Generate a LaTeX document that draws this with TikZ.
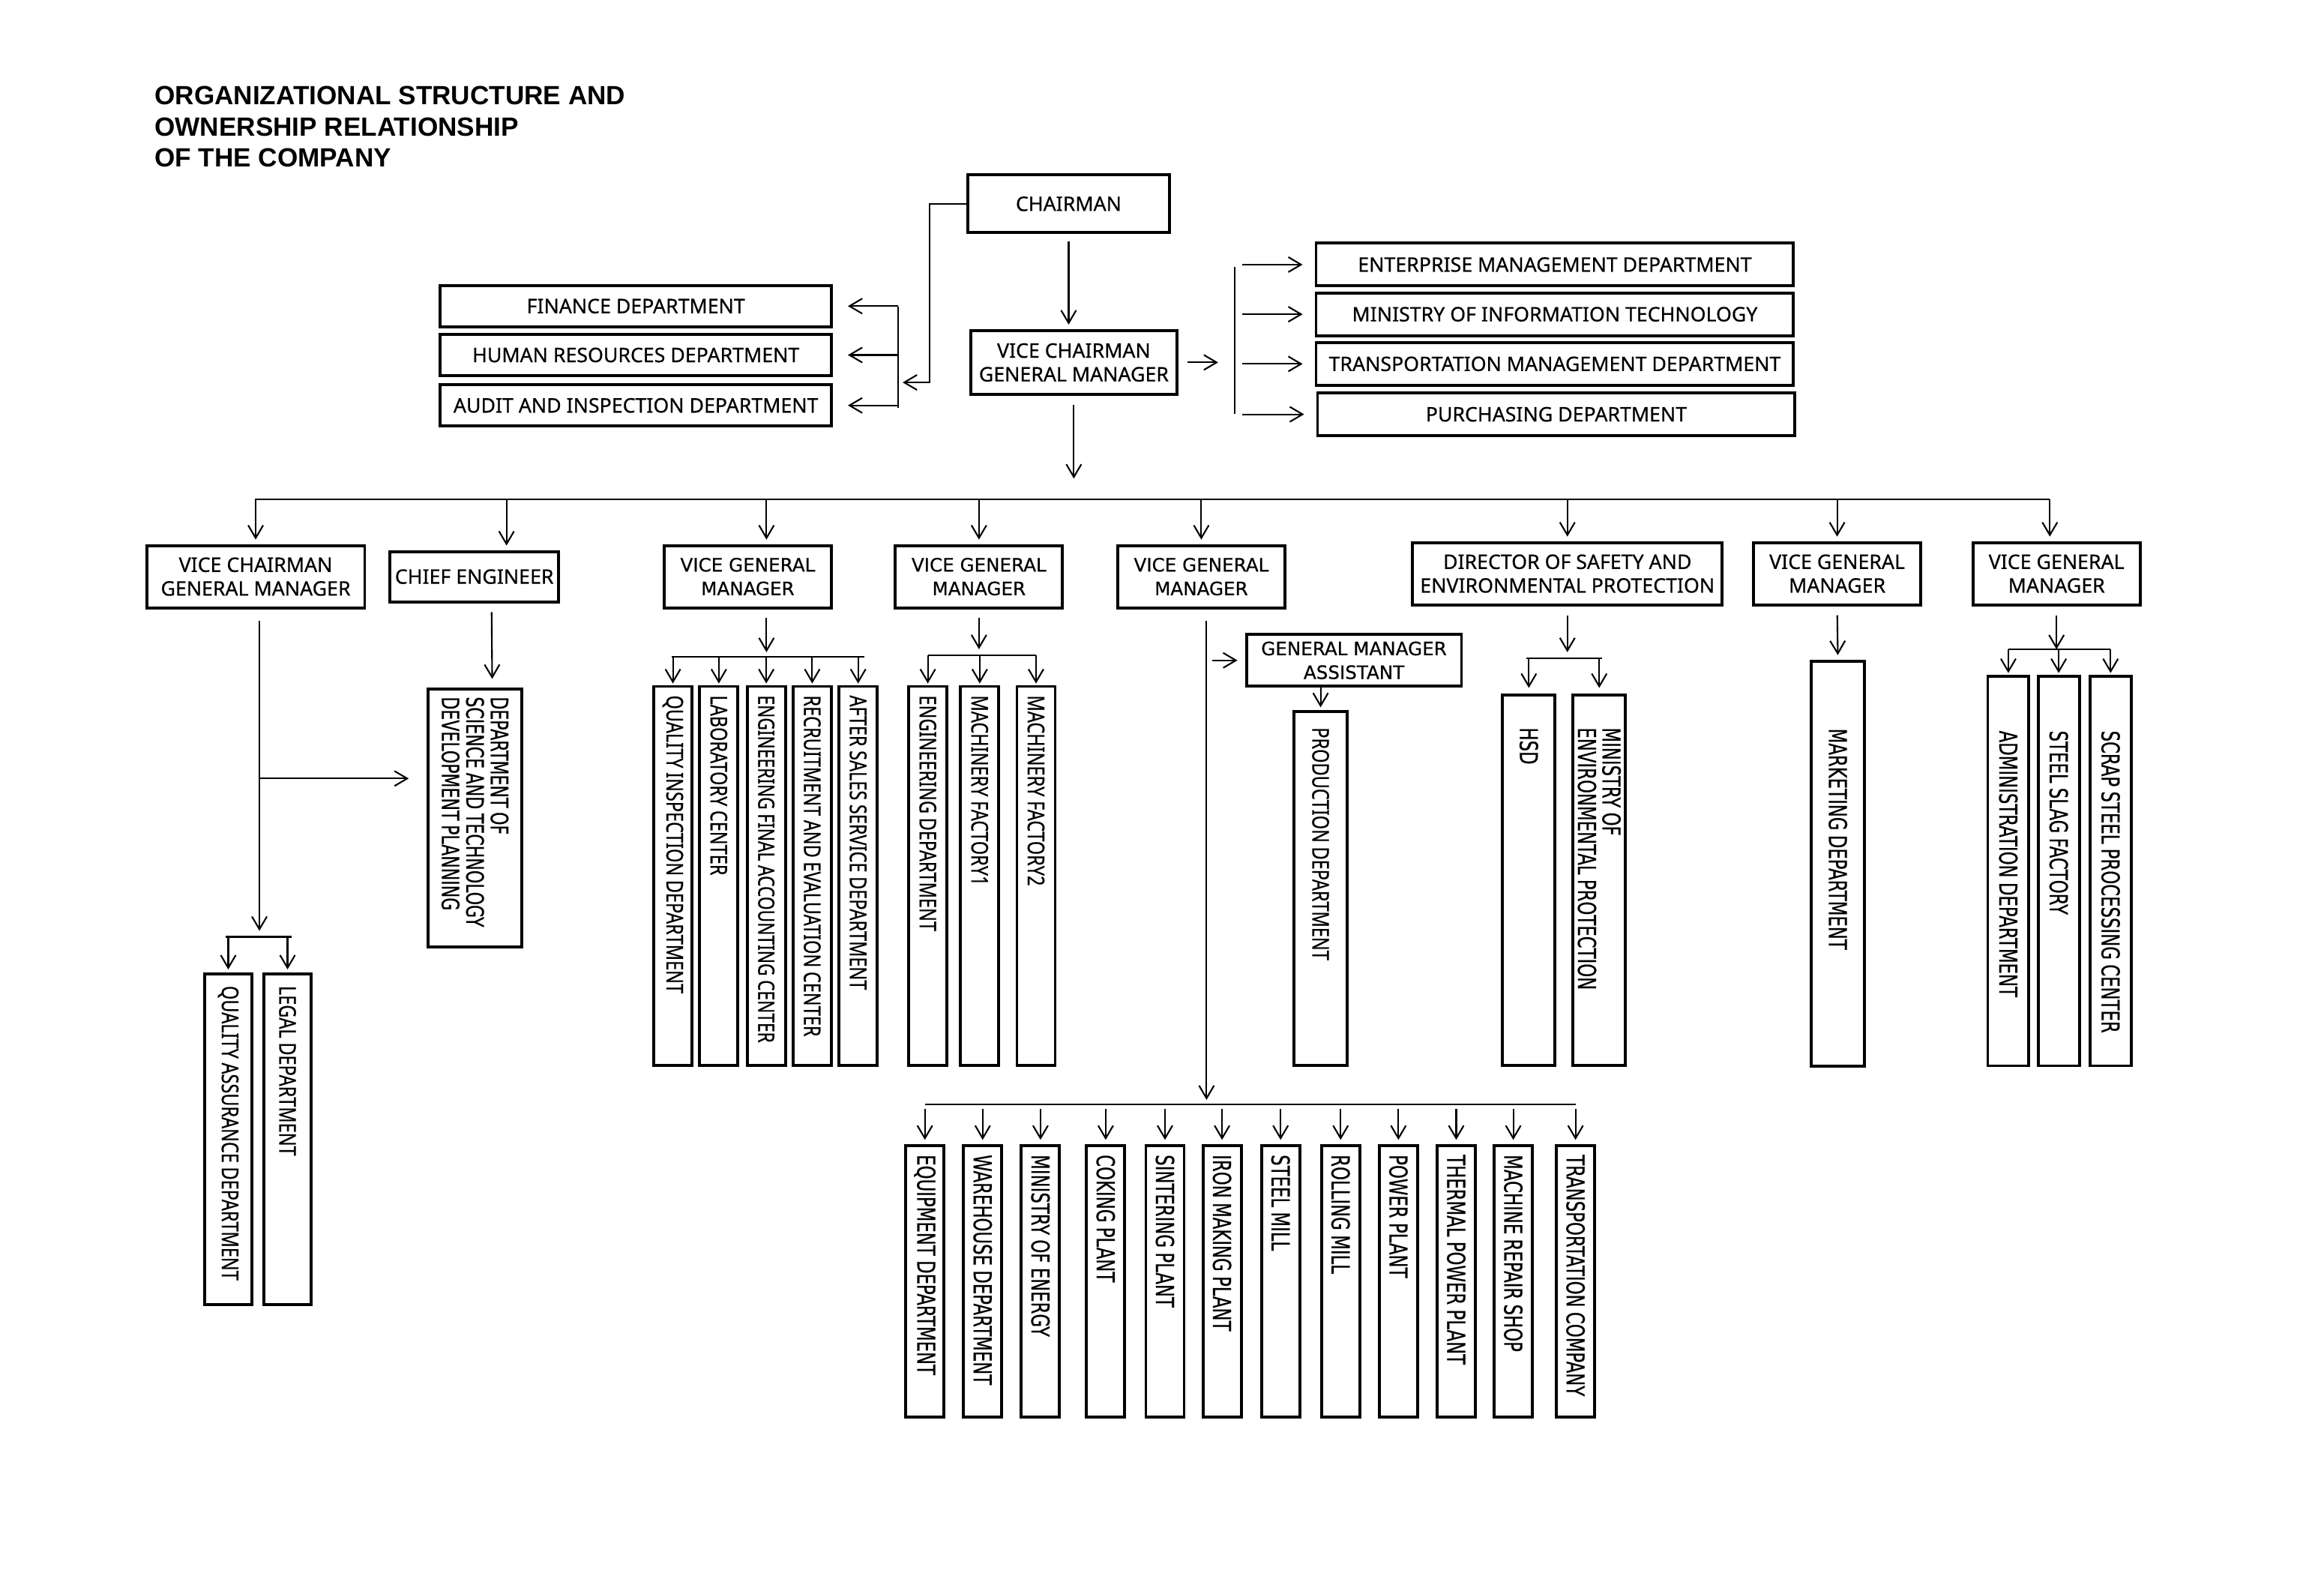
\documentclass[tikz,border=0pt]{standalone}
\usepackage{fontspec}
\setmainfont[FakeBold=0.5]{Noto Sans}
\newfontfamily\headfont{Liberation Sans}
\newfontfamily\dejafont[FakeBold=0.5]{DejaVu Sans}
\newfontfamily\slimfont[FakeStretch=0.76, FakeBold=0.5]{Noto Sans}
\newfontfamily\slimdejafont[FakeStretch=0.69, FakeBold=0.5]{DejaVu Sans}
\usetikzlibrary{arrows.meta}
\tikzset{
  unit/.style={draw, line width=1.1pt, inner sep=1pt, align=center, font=\fontsize{7.6}{9}\selectfont},
  wunit/.style={unit, font=\dejafont\fontsize{7}{9}\selectfont},
  vunit/.style 2 args={draw, line width=1.1pt, rotate=-90, inner xsep=0.12cm, inner ysep=0pt, text width=#1, minimum height=#2, align=left, font=\slimfont\fontsize{8.8}{9.3}\selectfont, execute at begin node={\spaceskip=1.6pt\relax}},
  wide/.style={font=\slimdejafont\fontsize{9.4}{9.3}\selectfont, execute at begin node={\spaceskip=1.8pt\relax}},
  lead/.style={execute at begin node={\leftskip=#1\relax}},
  arr/.style={line width=0.6pt, -{Straight Barb[length=1.7mm,width=2mm]}},
  link/.style={line width=0.6pt}
}
\begin{document}
\begin{tikzpicture}[x=0.01977cm, y=-0.01977cm]
\useasboundingbox (0,0) rectangle (1568,1073);
\node[anchor=north west, inner sep=0, align=left, font=\headfont\bfseries\fontsize{10}{11.8}\selectfont] (title) at (104,58) {ORGANIZATIONAL STRUCTURE AND\\OWNERSHIP RELATIONSHIP\\OF THE COMPANY};

\node[unit, minimum width=2.69cm, minimum height=0.77cm] (chair) at (721,137.5) {CHAIRMAN};
\node[unit, minimum width=2.75cm, minimum height=0.85cm] (vcgm) at (724.5,244.5) {VICE CHAIRMAN\\GENERAL MANAGER};
\node[unit, minimum width=5.22cm, minimum height=0.55cm] (fin) at (429,206.5) {FINANCE DEPARTMENT};
\node[unit, minimum width=5.22cm, minimum height=0.55cm] (hr) at (429,239.5) {HUMAN RESOURCES DEPARTMENT};
\node[unit, minimum width=5.22cm, minimum height=0.55cm] (audit) at (429,273.5) {AUDIT AND INSPECTION DEPARTMENT};
\node[unit, minimum width=6.37cm, minimum height=0.57cm] (ent) at (1049,178.5) {ENTERPRISE MANAGEMENT DEPARTMENT};
\node[unit, minimum width=6.37cm, minimum height=0.57cm] (mit) at (1049,212) {MINISTRY OF INFORMATION TECHNOLOGY};
\node[unit, minimum width=6.37cm, minimum height=0.57cm] (tmd) at (1049,245.5) {TRANSPORTATION MANAGEMENT DEPARTMENT};
\node[unit, minimum width=6.37cm, minimum height=0.57cm] (pur) at (1050,279.5) {PURCHASING DEPARTMENT};

\node[unit, minimum width=2.91cm, minimum height=0.83cm] (vcgmb) at (172.5,389) {VICE CHAIRMAN\\GENERAL MANAGER};
\node[unit, minimum width=2.25cm, minimum height=0.67cm] (chief) at (320,389) {CHIEF ENGINEER};
\node[wunit, minimum width=2.23cm, minimum height=0.83cm] (vgma) at (504.5,389) {VICE GENERAL\\MANAGER};
\node[wunit, minimum width=2.23cm, minimum height=0.83cm] (vgmb) at (660.5,389) {VICE GENERAL\\MANAGER};
\node[wunit, minimum width=2.23cm, minimum height=0.83cm] (vgmc) at (810.5,389) {VICE GENERAL\\MANAGER};
\node[unit, minimum width=4.13cm, minimum height=0.83cm] (dsep) at (1057.5,387) {DIRECTOR OF SAFETY AND\\ENVIRONMENTAL PROTECTION};
\node[unit, minimum width=2.23cm, minimum height=0.83cm] (vgmd) at (1239.5,387) {VICE GENERAL\\MANAGER};
\node[unit, minimum width=2.23cm, minimum height=0.83cm] (vgme) at (1387.5,387) {VICE GENERAL\\MANAGER};

\node[vunit={4.17cm}{0.63cm}, lead=0.04cm] (qad) at (154,768.5) {QUALITY ASSURANCE DEPARTMENT};
\node[vunit={4.17cm}{0.63cm}, lead=0.04cm] (legal) at (194,768.5) {LEGAL DEPARTMENT};
\node[vunit={3.24cm}{1.25cm}, inner xsep=0.1cm, font=\slimdejafont\fontsize{9.1}{9.3}\selectfont] (dstp) at (320.5,552) {DEPARTMENT OF\\SCIENCE AND TECHNOLOGY\\DEVELOPMENT PLANNING};

\node[vunit={4.82cm}{0.51cm}] (qid) at (454,591) {QUALITY INSPECTION DEPARTMENT};
\node[vunit={4.82cm}{0.51cm}] (lab) at (485,591) {LABORATORY CENTER};
\node[vunit={4.92cm}{0.51cm}, inner xsep=0.07cm, lead=0.05cm, font=\slimfont\fontsize{8.5}{9.3}\selectfont] (efac) at (517,591) {\mbox{ENGINEERING FINAL ACCOUNTING CENTER}};
\node[vunit={4.82cm}{0.51cm}] (rec) at (548,591) {\mbox{RECRUITMENT AND EVALUATION CENTER}};
\node[vunit={4.82cm}{0.51cm}] (ass) at (579,591) {AFTER SALES SERVICE DEPARTMENT};
\node[vunit={4.82cm}{0.51cm}] (engd) at (626,591) {ENGINEERING DEPARTMENT};
\node[vunit={4.82cm}{0.51cm}] (mfa) at (661,591) {MACHINERY FACTORY1};
\node[vunit={4.82cm}{0.51cm}] (mfb) at (699,591) {MACHINERY FACTORY2};

\node[wunit, minimum width=2.87cm, minimum height=0.69cm] (gma) at (913.5,445.5) {GENERAL MANAGER\\ASSISTANT};
\node[vunit={4.48cm}{0.71cm}, lead=0.09cm] (prod) at (891,599.5) {PRODUCTION DEPARTMENT};

\node[vunit={4.70cm}{0.70cm}, wide, lead=0.31cm] (hsd) at (1031.5,594) {HSD};
\node[vunit={4.70cm}{0.70cm}, wide, lead=0.31cm] (mep) at (1079,594) {MINISTRY OF\\ENVIRONMENTAL PROTECTION};
\node[vunit={5.16cm}{0.71cm}, wide, lead=0.78cm] (mkt) at (1240,582.5) {MARKETING DEPARTMENT};
\node[vunit={4.96cm}{0.55cm}, wide, lead=0.61cm] (adm) at (1355,587.5) {ADMINISTRATION DEPARTMENT};
\node[vunit={4.96cm}{0.55cm}, wide, lead=0.61cm] (ssf) at (1389,587.5) {STEEL SLAG FACTORY};
\node[vunit={4.96cm}{0.55cm}, wide, lead=0.61cm] (sspc) at (1424,587.5) {SCRAP STEEL PROCESSING CENTER};

\node[vunit={3.38cm}{0.51cm}, wide] (equip) at (624,864.5) {EQUIPMENT DEPARTMENT};
\node[vunit={3.38cm}{0.51cm}, wide] (ware) at (663,864.5) {WAREHOUSE DEPARTMENT};
\node[vunit={3.38cm}{0.51cm}, wide] (moe) at (702,864.5) {MINISTRY OF ENERGY};
\node[vunit={3.38cm}{0.51cm}, wide] (cok) at (746,864.5) {COKING PLANT};
\node[vunit={3.38cm}{0.51cm}, wide] (sint) at (786,864.5) {SINTERING PLANT};
\node[vunit={3.38cm}{0.51cm}, wide] (iron) at (824.5,864.5) {IRON MAKING PLANT};
\node[vunit={3.38cm}{0.51cm}, wide] (steel) at (864,864.5) {STEEL MILL};
\node[vunit={3.38cm}{0.51cm}, wide] (roll) at (904.5,864.5) {ROLLING MILL};
\node[vunit={3.38cm}{0.51cm}, wide] (power) at (943.5,864.5) {POWER PLANT};
\node[vunit={3.38cm}{0.51cm}, wide] (therm) at (982.5,864.5) {THERMAL POWER PLANT};
\node[vunit={3.38cm}{0.51cm}, wide] (mrs) at (1021,864.5) {MACHINE REPAIR SHOP};
\node[vunit={3.38cm}{0.51cm}, wide] (trans) at (1063,864.5) {\mbox{TRANSPORTATION COMPANY}};

\coordinate (cj) at (627,258);
\coordinate (lt) at (606,207);
\coordinate (lb) at (606,275);
\draw[arr, shorten >=0.06cm] (chair.west) -| (cj) -- (cj -| lt);
\draw[link] (lt) -- (lb);
\draw[arr, shorten >=0.2cm] (lt |- fin) -- (fin.east);
\draw[arr, shorten >=0.2cm] (lt |- hr) -- (hr.east);
\draw[arr, shorten >=0.2cm] (lt |- audit) -- (audit.east);

\draw[arr, shorten <=0.1cm, shorten >=0.06cm] (chair.south) -- (chair.south |- vcgm.north);

\coordinate (rt) at (833,180);
\coordinate (rb) at (833,279);
\draw[link] (rt) -- (rb);
\draw[arr, shorten <=0.12cm, shorten >=0.22cm] (vcgm.east) -- (vcgm.east -| rt);
\draw[arr, shorten <=0.1cm, shorten >=0.16cm] (rt |- ent) -- (ent.west);
\draw[arr, shorten <=0.1cm, shorten >=0.16cm] (rt |- mit) -- (mit.west);
\draw[arr, shorten <=0.1cm, shorten >=0.16cm] (rt |- tmd) -- (tmd.west);
\draw[arr, shorten <=0.1cm, shorten >=0.16cm] (rt |- pur) -- (pur.west);

\coordinate (bl) at (172,337);
\coordinate (br) at (1383,337);
\coordinate (chtop) at ([xshift=0.43cm]chief.north);
\coordinate (atop) at ([xshift=0.25cm]vgma.north);
\draw[link] (bl) -- (br);
\draw[arr, shorten <=0.12cm, shorten >=0.28cm] (vcgm.south) -- (vcgm.south |- bl);
\draw[arr, shorten >=0.06cm] (bl -| vcgmb) -- (vcgmb.north);
\draw[arr, shorten >=0.06cm] (bl -| chtop) -- (chtop);
\draw[arr, shorten >=0.06cm] (bl -| atop) -- (atop);
\draw[arr, shorten >=0.06cm] (bl -| vgmb) -- (vgmb.north);
\draw[arr, shorten >=0.06cm] (bl -| vgmc) -- (vgmc.north);
\draw[arr, shorten >=0.06cm] (bl -| dsep) -- (dsep.north);
\draw[arr, shorten >=0.06cm] (bl -| vgmd) -- (vgmd.north);
\draw[arr, shorten >=0.06cm] (br) -- (br |- vgme.north);

\coordinate (qa) at (152,632);
\coordinate (qb) at (197,632);
\coordinate (vd) at ([xshift=0.05cm]vcgmb.south);
\coordinate (dsl) at ([yshift=0.53cm]dstp.south);
\draw[arr, shorten <=0.16cm, shorten >=0.08cm] (vd) -- (vd |- qa);
\draw[arr, shorten >=0.24cm] (vd |- dsl) -- (dsl);
\draw[link] (qa) -- (qb);
\draw[arr, shorten >=0.04cm] (qa -| qad) -- (qad.west);
\draw[arr, shorten >=0.04cm] (qa -| legal) -- (legal.west);
\draw[arr, shorten <=0.12cm, shorten >=0.12cm] ([xshift=0.23cm]chief.south) -- ([xshift=0.23cm]dstp.west);

\coordinate (aa) at (453,443);
\coordinate (ab) at (583,443);
\coordinate (abot) at ([xshift=0.25cm]vgma.south);
\draw[arr, shorten <=0.12cm, shorten >=0.06cm] (abot) -- (abot |- aa);
\draw[link] (aa) -- (ab);
\draw[arr, shorten >=0.02cm] (aa -| qid) -- (qid.west);
\draw[arr, shorten >=0.02cm] (aa -| lab) -- (lab.west);
\draw[arr, shorten >=0.02cm] (aa -| efac) -- (efac.west);
\draw[arr, shorten >=0.02cm] (aa -| rec) -- (rec.west);
\draw[arr, shorten >=0.02cm] (aa -| ass) -- (ass.west);

\coordinate (ba) at (626,442);
\coordinate (bb) at (699,442);
\draw[arr, shorten <=0.12cm, shorten >=0.08cm] (vgmb.south) -- (vgmb.south |- ba);
\draw[link] (ba) -- (bb);
\draw[arr, shorten >=0.02cm] (ba -| engd) -- (engd.west);
\draw[arr, shorten >=0.02cm] (ba -| mfa) -- (mfa.west);
\draw[arr, shorten >=0.02cm] (ba -| mfb) -- (mfb.west);

\coordinate (pa) at (624,745);
\coordinate (pb) at (1063,745);
\coordinate (cd) at ([xshift=0.07cm]vgmc.south);
\draw[arr, shorten <=0.16cm, shorten >=0.06cm] (cd) -- (cd |- pa);
\draw[arr, shorten <=0.08cm, shorten >=0.1cm] (cd |- gma.west) -- (gma.west);
\draw[arr, shorten >=0.04cm] (prod.west |- gma.south) -- (prod.west);
\draw[link] (pa) -- (pb);
\draw[arr, shorten <=0.06cm, shorten >=0.06cm] (pa -| equip) -- (equip.west);
\draw[arr, shorten <=0.06cm, shorten >=0.06cm] (pa -| ware) -- (ware.west);
\draw[arr, shorten <=0.06cm, shorten >=0.06cm] (pa -| moe) -- (moe.west);
\draw[arr, shorten <=0.06cm, shorten >=0.06cm] (pa -| cok) -- (cok.west);
\draw[arr, shorten <=0.06cm, shorten >=0.06cm] (pa -| sint) -- (sint.west);
\draw[arr, shorten <=0.06cm, shorten >=0.06cm] (pa -| iron) -- (iron.west);
\draw[arr, shorten <=0.06cm, shorten >=0.06cm] (pa -| steel) -- (steel.west);
\draw[arr, shorten <=0.06cm, shorten >=0.06cm] (pa -| roll) -- (roll.west);
\draw[arr, shorten <=0.06cm, shorten >=0.06cm] (pa -| power) -- (power.west);
\draw[arr, shorten <=0.06cm, shorten >=0.06cm] (pa -| therm) -- (therm.west);
\draw[arr, shorten <=0.06cm, shorten >=0.06cm] (pa -| mrs) -- (mrs.west);
\draw[arr, shorten <=0.06cm, shorten >=0.06cm] (pa -| trans) -- (trans.west);

\coordinate (da) at (1030,444);
\coordinate (db) at (1081,444);
\draw[arr, shorten <=0.12cm, shorten >=0.08cm] (dsep.south) -- (dsep.south |- da);
\draw[link] (da) -- (db);
\draw[arr, shorten >=0.08cm] (da -| hsd) -- (hsd.west);
\draw[arr, shorten >=0.08cm] (da -| mep) -- (mep.west);

\draw[arr, shorten <=0.12cm, shorten >=0.06cm] (vgmd.south) -- (mkt.west);

\coordinate (ea) at (1355,438);
\coordinate (eb) at (1424,438);
\draw[arr, shorten <=0.12cm] (vgme.south) -- (vgme.south |- ea);
\draw[link] (ea) -- (eb);
\draw[arr, shorten >=0.02cm] (ea -| adm) -- (adm.west);
\draw[arr, shorten >=0.02cm] (ea -| ssf) -- (ssf.west);
\draw[arr, shorten >=0.02cm] (ea -| sspc) -- (sspc.west);
\end{tikzpicture}
\end{document}
